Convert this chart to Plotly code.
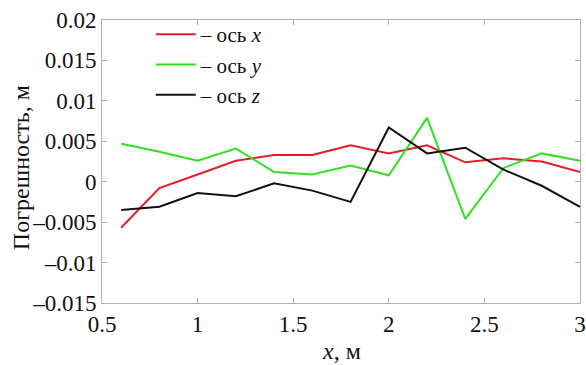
import plotly.graph_objects as go

x_vals = [0.6, 0.8, 1.0, 1.2, 1.4, 1.6, 1.8, 2.0, 2.2, 2.4, 2.6, 2.8, 3.0]
err_x = [-0.0057, -0.0008, 0.0009, 0.0026, 0.0033, 0.0033, 0.0045, 0.0035, 0.0045, 0.0024, 0.0029, 0.0025, 0.0012]
err_y = [0.0047, 0.0037, 0.0026, 0.0041, 0.0012, 0.0009, 0.0020, 0.0008, 0.0079, -0.0046, 0.0017, 0.0035, 0.0026]
err_z = [-0.0035, -0.0031, -0.0014, -0.0018, -0.0002, -0.0011, -0.0025, 0.0067, 0.0035, 0.0042, 0.0015, -0.0005, -0.0031]

y_ticks = [0.02, 0.015, 0.01, 0.005, 0, -0.005, -0.01, -0.015]
y_ticktext = ["0.02", "0.015", "0.01", "0.005", "0", "–0.005", "–0.01", "–0.015"]
x_ticks = [0.5, 1, 1.5, 2, 2.5, 3]
x_ticktext = ["0.5", "1", "1.5", "2", "2.5", "3"]

names = ["– ось <i>x</i>", "– ось <i>y</i>", "– ось <i>z</i>"]
colors = ["#e41e26", "#33e01f", "#111111"]

fig = go.Figure()
for ys, nm, c in zip([err_x, err_y, err_z], names, colors):
    fig.add_trace(go.Scatter(x=x_vals, y=ys, mode="lines", name=nm,
                             line=dict(color=c, width=2)))

font = "Liberation Serif"
axis_common = dict(showgrid=False, zeroline=False, showline=True, linecolor="#b0b0b0",
                   linewidth=1, mirror="allticks", ticks="inside", ticklen=5,
                   tickcolor="#b0b0b0", automargin=False,
                   tickfont=dict(family=font, size=23, color="#111"))

fig.update_layout(
    width=586, height=365,
    margin=dict(l=102, r=6, t=20, b=62),
    paper_bgcolor="white", plot_bgcolor="white",
    showlegend=True,
    font=dict(family=font),
    legend=dict(x=0.102, y=1.021, xanchor="left", yanchor="top",
                font=dict(family=font, size=21, color="#111"),
                bgcolor="rgba(0,0,0,0)", itemwidth=40, tracegroupgap=0),
    xaxis=dict(range=[0.5, 3], tickvals=x_ticks, ticktext=x_ticktext, **axis_common),
    yaxis=dict(range=[-0.015, 0.02], tickvals=y_ticks, ticktext=y_ticktext, **axis_common),
    annotations=[
        dict(text="Погрешность, м", textangle=-90, xref="paper", yref="paper",
             x=-0.1695, y=0.48, xanchor="center", yanchor="middle", showarrow=False,
             font=dict(family=font, size=24, color="#111")),
        dict(text="<i>x</i>, м", xref="paper", yref="paper",
             x=0.5, y=-0.17, xanchor="center", yanchor="middle", showarrow=False,
             font=dict(family=font, size=24, color="#111")),
    ],
)

fig.write_html("out.html")
